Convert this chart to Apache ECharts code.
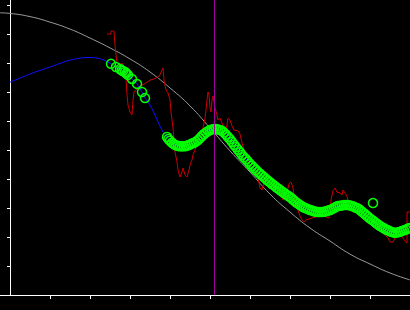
<!DOCTYPE html>
<html>
<head>
<meta charset="utf-8">
<script src="https://cdn.jsdelivr.net/npm/echarts@6/dist/echarts.min.js"></script>
<style>
html,body{margin:0;padding:0;background:#000;}
#chart{width:410px;height:310px;}
</style>
</head>
<body>
<div id="chart"></div>
<script>
// Tick positions (axis units)
const xTicks = [0,10,20,30,40,50,60,70,80,90,100];
const yTicks = [0,10,20,30,40,50,60,70,80,90,100];

// Gray reference curve
const trueCurve = [
  [-2.5,97.3],[0,97.1],[5,96.0],[10,94.1],[15,91.7],[20,88.6],[25,85.2],[30,81.4],
  [35,76.9],[40,71.4],[45,65.2],[50,57.6],[55,49.7],[60,42.4],[65,34.8],[70,28.6],
  [75,23.1],[80,18.6],[85,14.1],[90,10.7],[95,7.6],[100,5.2]
];

// Red noisy observations
const observed = [
  [24.25,90.0],[25.25,90.0],[25.25,91.0],[26,91.0],[26.25,86.2],[26.5,82.8],[26.75,80.0],
  [27.5,79.7],[28.25,79.7],[28.5,76.9],[29,74.8],[29.25,69.0],[29.5,65.5],[30,63.1],
  [30.5,62.1],[30.75,67.2],[31,70.0],[31.5,70.7],[32,71.7],[33,72.4],[34,73.1],[35,74.1],
  [36,74.5],[37,75.2],[37.5,75.9],[38,77.6],[38.25,78.3],[38.5,74.1],[39,70.7],[39.5,69.7],
  [40,67.2],[40.25,63.1],[40.75,57.6],[41,53.4],[41.25,49.3],[41.75,45.9],[42,43.1],
  [42.5,40.7],[43,42.4],[43.25,43.8],[43.75,41.4],[44.25,40.7],[44.75,43.1],[45,44.8],
  [45.5,46.6],[45.75,48.3],[46.25,50.0],[46.75,51.7],[47.25,53.4],[47.5,54.1],[48,56.2],
  [48.25,57.6],[48.75,61.0],[49,63.8],[49.25,67.2],[49.5,70.0],[49.75,69.0],[50,64.5],
  [50.25,63.1],[50.5,67.2],[50.75,68.6],[51.25,64.5],[51.75,62.1],[52,60.3],[52.5,61.0],
  [53,59.3],[53.5,57.6],[53.75,56.2],[54.25,58.6],[54.5,61.0],[55,60.3],[55.5,58.3],
  [56,56.9],[56.5,56.6],[57,56.6],[57.5,55.5],[58,52.4],[58.5,50.0],[59,48.3],[59.5,46.6],
  [60,44.8],[60.5,43.8],[61.25,43.1],[62,40.3],[62.5,36.9],[63,36.2],[63.5,39.0],[64,40.3],
  [65,41.0],[65.75,39.0],[66.75,37.2],[67.5,35.5],[68.25,32.8],[68.75,32.8],[69.25,35.5],
  [69.75,38.3],[70.25,39.0],[70.75,36.9],[71.25,32.1],[72,29.3],[72.5,27.2],[73,25.9],
  [73.5,25.2],[74,25.9],[74.75,26.2],[75.5,26.6],[76.5,26.9],[77.5,27.6],[78.25,27.2],
  [79,26.9],[79.75,26.6],[80,28.3],[80.25,32.8],[80.75,35.9],[81.25,36.9],[81.75,35.5],
  [82.5,35.2],[83,34.5],[83.25,36.2],[83.75,35.2],[84.25,34.1],[84.5,32.4],[85.25,31.7],
  [86.25,31.7],[87,30.3],[88,31.0],[88.75,29.3],[89.25,28.3],[89.5,29.0],[90.25,27.9],
  [90.75,25.9],[91.5,24.1],[92.5,22.4],[93.5,21.0],[94.5,19.7],[95,18.3],[95.75,18.3],
  [96.25,19.7],[97,20.7],[97.75,20.7],[98.25,20.3],[98.75,18.6],[99.25,17.9],[99.25,28.6],
  [100,28.6]
];

// Blue estimate path pieces
const blueLead = [
  [0,73.4],[2.5,74.8],[5.75,76.6],[10,78.6],[14.25,80.7],[17.5,81.7],[20,81.9],[21.75,81.7],[23.5,81.0]
];
const circlesEarly = [
  [25.25,79.7],[26.5,78.6],[27.5,77.9],[27.9,77.5],[28.25,77.2],[28.75,76.9],[29.1,76.4],
  [29.5,75.9],[30.5,74.5],[31.75,72.8],[33,70.0],[33.75,67.9]
];
const blueGap = [[35,65.5],[36,62.8],[37,59.7],[38,56.9]];
const circlesMain = [
  [39.25,54.5],[39.6,53.8],[40,53.2],[40.5,52.5],[41,52.0],[41.5,51.6],[42,51.4],[42.5,51.3],
  [43,51.3],[43.5,51.3],[44,51.4],[44.5,51.6],[45,51.9],[45.5,52.2],[46,52.5],[46.5,52.9],
  [47,53.4],[47.5,54.1],[48,54.8],[48.5,55.5],[49,56.0],[49.5,56.5],[50,56.9],[50.5,57.1],
  [51,57.2],[51.5,57.2],[52,57.1],[52.5,56.9],[53,56.6],[53.5,56.0],[54,55.3],[54.5,54.5],
  [55,53.7],[55.5,52.8],[56,51.8],[56.5,51.0],[57,50.1],[57.5,49.2],[58,48.3],[58.5,47.5],
  [59,46.8],[59.5,46.0],[60,45.2],[60.5,44.5],[61,43.8],[61.5,43.1],[62,42.4],[62.5,41.8],
  [63,41.2],[63.5,40.6],[64,40.0],[64.5,39.4],[65,38.9],[65.5,38.3],[66,37.8],[66.5,37.2],
  [67,36.7],[67.5,36.2],[68,35.7],[68.5,35.2],[69,34.7],[69.5,34.2],[70,33.8],[70.5,33.2],
  [71,32.6],[71.5,32.0],[72,31.5],[72.5,31.0],[73,30.6],[73.5,30.2],[74,29.9],[74.5,29.6],
  [75,29.3],[75.5,29.1],[76,28.9],[76.5,28.7],[77,28.6],[77.5,28.6],[78,28.6],[78.5,28.7],
  [79,28.9],[79.5,29.1],[80,29.3],[80.5,29.6],[81,30.0],[81.5,30.4],[82,30.7],[82.5,30.8],
  [83,30.9],[83.5,31.0],[84,31.0],[84.5,31.0],[85,30.9],[85.5,30.7],[86,30.4],[86.5,30.1],
  [87,29.8],[87.5,29.3],[88,28.7],[88.5,28.2],[89,27.6],[89.5,27.0],[90,26.4],[90.5,25.9],
  [91,25.4],[91.5,24.8],[92,24.3],[92.5,23.8],[93,23.4],[93.5,23.0],[94,22.6],[94.5,22.3],
  [95,22.0],[95.5,21.7],[96,21.5],[96.5,21.5],[97,21.6],[97.5,21.8],[98,22.1],[98.5,22.3],
  [99,22.6],[99.5,22.9],[100,23.1]
];
const outlierCircle = [[90.75,31.7]];
const markerX = 51;

const bluePath = blueLead.concat(circlesEarly, blueGap, circlesMain);
const circles = circlesEarly.concat(circlesMain, outlierCircle);

const chart = echarts.init(document.getElementById('chart'), null, {renderer:'canvas'});
chart.setOption({
  backgroundColor: '#000',
  animation: false,
  grid: {left: 0, right: 0, top: 0, bottom: 15, containLabel: false},
  xAxis: {
    type: 'value', min: -2.5, max: 100,
    axisLine: {show: true, onZero: true, lineStyle: {color: '#fff', width: 1}},
    axisTick: {show: true, length: 4, customValues: xTicks.slice(1), lineStyle: {color: '#fff', width: 1}},
    axisLabel: {show: false},
    splitLine: {show: false}
  },
  yAxis: {
    type: 'value', min: 0, max: 295/2.9,
    axisLine: {show: true, onZero: true, lineStyle: {color: '#fff', width: 1}},
    axisTick: {show: true, length: 3, customValues: yTicks.slice(1), lineStyle: {color: '#fff', width: 1}},
    axisLabel: {show: false},
    splitLine: {show: false}
  },
  series: [
    {
      type: 'line', data: trueCurve, smooth: true, showSymbol: false, z: 1,
      lineStyle: {color: '#9a9a9a', width: 1},
      markLine: {
        silent: true, symbol: ['none','none'], label: {show: false},
        lineStyle: {color: '#a000a0', width: 1, type: 'solid'},
        data: [{xAxis: markerX}]
      }
    },
    {
      type: 'line', data: observed, showSymbol: false, z: 2,
      lineStyle: {color: '#cc0000', width: 1}
    },
    {
      type: 'line', data: bluePath, smooth: 0.3, showSymbol: false, z: 3,
      lineStyle: {color: '#1010ff', width: 1}
    },
    {
      type: 'scatter', data: circles, symbol: 'circle', symbolSize: 9, z: 4,
      itemStyle: {color: 'rgba(0,0,0,0)', borderColor: '#00ff00', borderWidth: 1.5, opacity: 1}
    }
  ]
});
</script>
</body>
</html>
